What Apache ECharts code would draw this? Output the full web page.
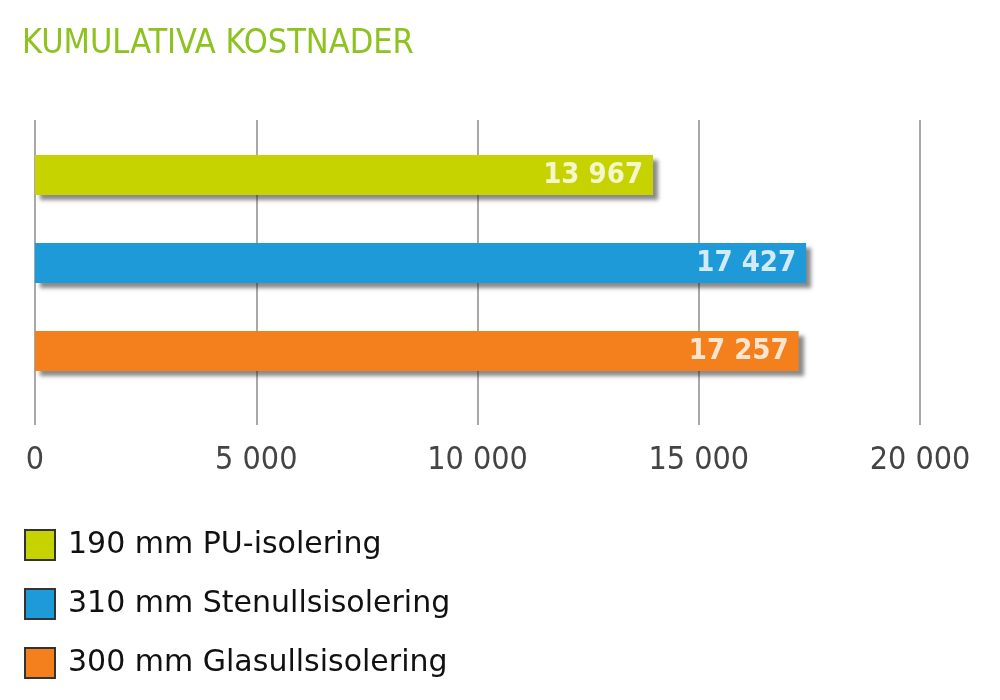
<!DOCTYPE html>
<html><head><meta charset="utf-8">
<script src="https://cdn.jsdelivr.net/npm/echarts@6/dist/echarts.min.js"></script>
<style>html,body{margin:0;padding:0;background:#fff}#c{width:1000px;height:700px}</style>
</head><body><div id="c"></div>
<script>
const title = 'KUMULATIVA KOSTNADER';
const categories = ['190 mm PU-isolering', '310 mm Stenullsisolering', '300 mm Glasullsisolering'];
const values = [13967, 17427, 17257];
const colors = ['#c6d300', '#1f9ad8', '#f3801c'];
const xTicks = [0, 5000, 10000, 15000, 20000];

function fmt(v){ return String(v).replace(/\B(?=(\d{3})+(?!\d))/g, ' '); }

const chart = echarts.init(document.getElementById('c'));
const series = categories.map((name, i) => ({
  name: name,
  type: 'bar',
  xAxisIndex: 1, yAxisIndex: 1,
  barWidth: 40,
  barGap: '-100%',
  data: categories.map((c, j) => j === i ? values[i] : '-'),
  itemStyle: { color: colors[i], shadowColor: 'rgba(40,40,40,0.55)', shadowBlur: 4, shadowOffsetX: 5, shadowOffsetY: 5 },
  label: { show: true, position: 'insideRight', distance: 10, color: 'rgba(255,255,255,0.8)',
    fontFamily: 'DejaVu Sans Condensed', fontWeight: 'bold', fontSize: 29, formatter: p => fmt(p.value) }
}));

chart.setOption({
  animation: false,
  title: { text: title, left: 17, top: 22, textStyle: { color: '#8dc21f', fontFamily: 'DejaVu Sans Condensed', fontWeight: 'normal', fontSize: 34 } },
  legend: {
    orient: 'vertical', left: 19, top: 524, itemWidth: 30, itemHeight: 30, itemGap: 27,
    icon: 'rect',
    textStyle: { color: '#111', fontFamily: 'DejaVu Sans', fontSize: 30, padding: [0,0,0,8] },
    itemStyle: { borderColor: '#333', borderWidth: 2 },
    data: categories
  },
  grid: [
    { left: 35, right: 80, top: 120, height: 305 },
    { left: 35, right: 80, top: 131, height: 264 }
  ],
  xAxis: [
    { type: 'value', gridIndex: 0, min: 0, max: 20000, interval: 5000,
      axisLine: { show: false }, axisTick: { show: false },
      splitLine: { show: true, lineStyle: { color: '#a8a8a8', width: 2 } },
      axisLabel: { color: '#444', fontFamily: 'DejaVu Sans Condensed', fontSize: 32, margin: 20, formatter: v => fmt(v) } },
    { type: 'value', gridIndex: 1, min: 0, max: 20000, show: false }
  ],
  yAxis: [
    { type: 'category', gridIndex: 0, data: [''], show: false },
    { type: 'category', gridIndex: 1, data: categories, inverse: true, show: false }
  ],
  series: series
});
</script></body></html>
